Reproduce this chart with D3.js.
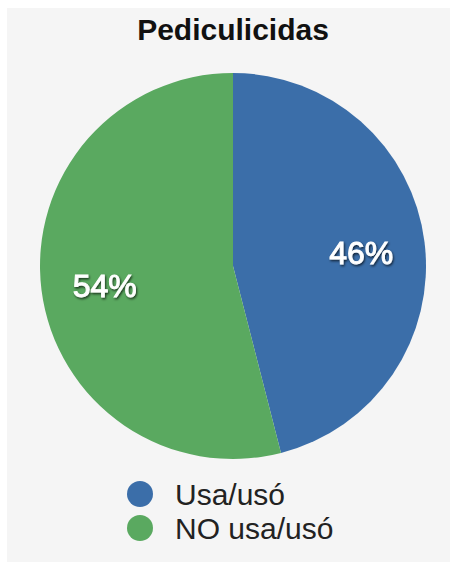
<!DOCTYPE html>
<html>
<head>
<meta charset="utf-8">
<script src="https://cdn.jsdelivr.net/npm/d3@7/dist/d3.min.js"></script>
<style>
  html, body { margin: 0; padding: 0; background: #ffffff; }
  svg { display: block; }
  text { font-family: "Liberation Sans", Arial, Helvetica, sans-serif; }
</style>
</head>
<body>
<svg id="chart" width="454" height="563"></svg>
<script>
// Survey answers: share of people who use / used lice treatment
const title = "Pediculicidas";
const categories = ["Usa/usó", "NO usa/usó"];
const values = [46, 54];
const colors = ["#3b6ea9", "#5aa960"];

const W = 454, H = 563;
const cx = 233, cy = 266, radius = 193;

const svg = d3.select("#chart");

// soft drop shadow under the percentage labels
const defs = svg.append("defs");
const shadow = defs.append("filter").attr("id", "labelShadow")
  .attr("x", "-20%").attr("y", "-20%").attr("width", "140%").attr("height", "140%");
shadow.append("feDropShadow")
  .attr("dx", 1).attr("dy", 1.5).attr("stdDeviation", 1.2)
  .attr("flood-color", "#000").attr("flood-opacity", 0.7);

// light grey panel
svg.append("rect")
  .attr("x", 7).attr("y", 8).attr("width", 443).attr("height", 554)
  .attr("fill", "#f5f5f5");

svg.append("text")
  .attr("x", cx).attr("y", 40)
  .attr("text-anchor", "middle")
  .attr("font-size", 30).attr("font-weight", "bold")
  .attr("fill", "#111")
  .text(title);

const color = d3.scaleOrdinal().domain(categories).range(colors);

const data = categories.map((c, i) => ({ category: c, value: values[i] }));
const pie = d3.pie().value(d => d.value).sort(null);
const arcs = pie(data);

const arc = d3.arc().innerRadius(0).outerRadius(radius);
const labelArc = d3.arc().innerRadius(radius * 0.67).outerRadius(radius * 0.67);

const g = svg.append("g").attr("transform", `translate(${cx},${cy})`);

g.selectAll("path.slice")
  .data(arcs)
  .join("path")
  .attr("class", "slice")
  .attr("d", arc)
  .attr("fill", d => color(d.data.category));

// percentage labels: regular weight thickened with a thin outline
g.selectAll("text.pct")
  .data(arcs)
  .join("text")
  .attr("class", "pct")
  .attr("transform", d => `translate(${labelArc.centroid(d)})`)
  .attr("text-anchor", "middle")
  .attr("dy", "0.45em")
  .attr("font-size", 32)
  .attr("fill", "#ffffff")
  .attr("stroke", "#ffffff")
  .attr("stroke-width", 0.9)
  .attr("filter", "url(#labelShadow)")
  .text(d => d.data.value + "%");

// legend
const legend = svg.append("g").attr("transform", "translate(140,494)");
const item = legend.selectAll("g")
  .data(categories)
  .join("g")
  .attr("transform", (d, i) => `translate(0,${i * 34})`);

item.append("circle")
  .attr("r", 13)
  .attr("fill", d => color(d));

item.append("text")
  .attr("x", 35)
  .attr("dy", "0.36em")
  .attr("font-size", 30)
  .attr("fill", "#222")
  .text(d => d);
</script>
</body>
</html>
